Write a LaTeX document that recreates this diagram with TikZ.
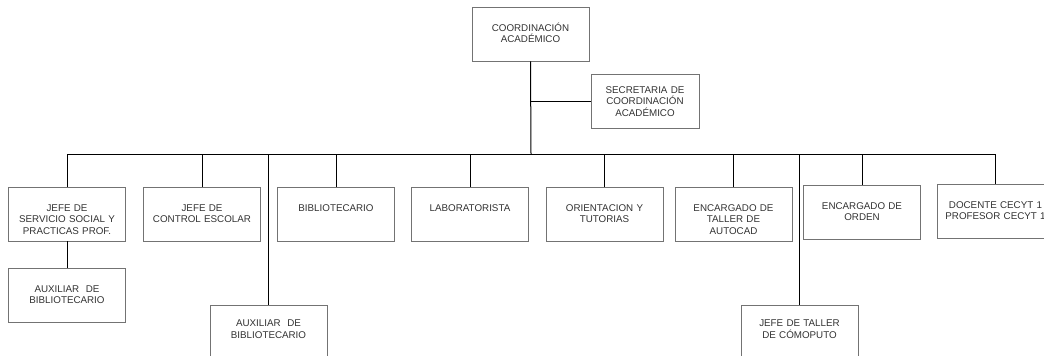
\documentclass[tikz,border=0pt]{standalone}
\usepackage{fontspec}
\setmainfont{Liberation Sans}
\usepackage{xcolor}
\usetikzlibrary{positioning, calc}
\definecolor{textogris}{RGB}{50,50,50}
\definecolor{bordegris}{RGB}{115,115,115}
\tikzset{
    cargo/.style={draw=bordegris, line width=0.8pt, rectangle, inner sep=0pt,
        text width=117pt, align=center, text=textogris,
        font=\fontsize{9.8}{11.8}\selectfont,
        text height=24pt, text depth=30pt},
    enlace/.style={draw=black, line width=1pt}
}

\begin{document}
\begin{tikzpicture}[x=1pt, y=-1pt]
        \useasboundingbox (0,0) rectangle (1044,356);
        \clip (0,0) rectangle (1044,356);
        % ----------------------------------------------------
        % Direction
        % ----------------------------------------------------
        \node[cargo] (coord) at (530.5,34) {COORDINACIÓN\\ACADÉMICO};
        \node[cargo, text width=108pt, text height=19pt, text depth=35pt] (secre) at (645,101) {SECRETARIA DE\\COORDINACIÓN\\ACADÉMICO};
        \coordinate (bus) at (531,154);

        % ----------------------------------------------------
        % Second level
        % ----------------------------------------------------
        \node[cargo] (b1) at (67,214) {JEFE DE\\SERVICIO SOCIAL Y\\PRACTICAS PROF.};
        \node[cargo] (b2) at (202,214) {JEFE DE\\CONTROL ESCOLAR};
        \node[cargo] (b3) at (336,214) {BIBLIOTECARIO};
        \node[cargo] (b4) at (470,214) {LABORATORISTA};
        \node[cargo] (b5) at (604.5,214) {ORIENTACION Y\\TUTORIAS};
        \node[cargo] (b6) at (733.5,214) {ENCARGADO DE\\TALLER DE\\AUTOCAD};
        \node[cargo] (b7) at (862,212) {ENCARGADO DE\\ORDEN};
        \node[cargo] (b8) at (995.5,211) {DOCENTE CECYT 1\\PROFESOR CECYT 1};

        % Assistants
        \node[cargo] (aux1) at (67,295) {AUXILIAR~ DE\\BIBLIOTECARIO};
        \node[cargo, text height=21pt] (aux2) at (268.5,331) {AUXILIAR~ DE\\BIBLIOTECARIO};
        \node[cargo, text height=21pt] (aux3) at (799.5,331) {JEFE DE TALLER\\DE CÓMOPUTO};

        % ----------------------------------------------------
        % Connectors
        % ----------------------------------------------------
        \draw[enlace] (coord.south) -- (bus);
        \draw[enlace] (coord.south |- secre.west) -- (secre.west);
        \draw[enlace] (b1.north |- bus) -- (b8.north |- bus);
        \foreach \n in {b1,b2,b3,b4,b5,b6,b7,b8,aux2,aux3}
            \draw[enlace] (\n.north |- bus) -- (\n.north);
        \draw[enlace] (b1.south) -- (aux1.north);
    \end{tikzpicture}
\end{document}
